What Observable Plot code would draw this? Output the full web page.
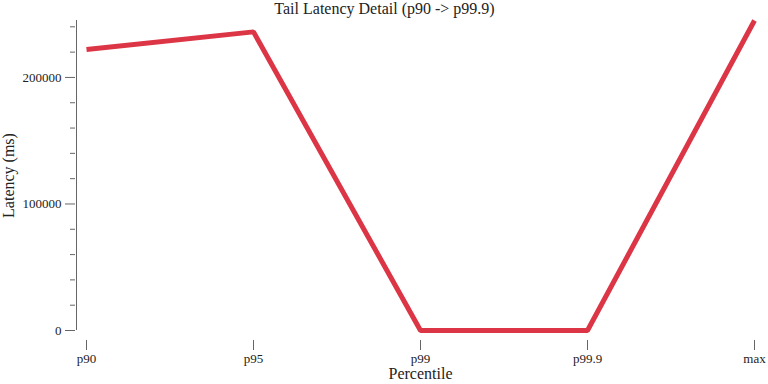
<!DOCTYPE html>
<html>
<head>
<meta charset="utf-8">
<script src="https://cdn.jsdelivr.net/npm/d3@7"></script>
<script src="https://cdn.jsdelivr.net/npm/@observablehq/plot@0.6"></script>
<style>
  html, body { margin: 0; padding: 0; background: #fff; }
</style>
</head>
<body>
<div id="chart"></div>
<script>
const percentiles = ["p90", "p95", "p99", "p99.9", "max"];
const latencies = [222000, 236000, 0, 0, 245000];
const majorTicks = [0, 100000, 200000];
const minorTicks = [20000, 40000, 60000, 80000, 120000, 140000, 160000, 180000, 220000, 240000];
const titleText = "Tail Latency Detail (p90 -> p99.9)";
const xLabel = "Percentile";
const yLabel = "Latency (ms)";

const data = percentiles.map((p, i) => ({p, v: latencies[i]}));

const W = 768, H = 384;
const mL = 85, mR = 13, mT = 20, mB = 54;
const frameCenter = mL + (W - mL - mR) / 2;
const axisColor = "#666";
const textColor = "#222";

const chart = Plot.plot({
  width: W,
  height: H,
  marginLeft: mL,
  marginRight: mR,
  marginTop: mT,
  marginBottom: mB,
  style: {fontFamily: "'Liberation Serif', 'DejaVu Serif', serif", fontSize: "13px", color: textColor, background: "#fff"},
  x: {type: "point", domain: percentiles, padding: 0, axis: null},
  y: {domain: [0, d3.max(latencies)], axis: null},
  marks: [
    // y axis line
    Plot.ruleX([percentiles[0]], {x: d => d, y1: 0, y2: d3.max(latencies), dx: -10, stroke: axisColor}),
    // x axis line
    Plot.ruleY([0], {x1: percentiles[0], x2: percentiles[percentiles.length - 1], dy: 10, stroke: axisColor}),
    Plot.axisY({ticks: majorTicks, tickSize: 10, tickPadding: 4, dx: -10, stroke: axisColor, fill: textColor, tickFormat: d3.format("d"), label: null}),
    Plot.axisY({ticks: minorTicks, tickSize: 5, dx: -10, stroke: axisColor, text: null, label: null}),
    Plot.axisX({tickSize: 10, tickPadding: 3, dy: 10, stroke: axisColor, fill: textColor, label: null}),
    Plot.lineY(data, {x: "p", y: "v", stroke: "#dc3545", strokeWidth: 5, strokeLinejoin: "miter", strokeLinecap: "butt"}),
    Plot.text([titleText], {frameAnchor: "top", dx: W / 2 - frameCenter, dy: -12, fontSize: 16, fill: textColor, lineAnchor: "middle"}),
    Plot.text([xLabel], {frameAnchor: "bottom", dy: 43, fontSize: 16, fill: textColor, lineAnchor: "middle"}),
    Plot.text([yLabel], {frameAnchor: "left", dx: -77, rotate: -90, fontSize: 16, fill: textColor, lineAnchor: "middle", textAnchor: "middle"})
  ]
});
document.getElementById("chart").appendChild(chart);
</script>
</body>
</html>
